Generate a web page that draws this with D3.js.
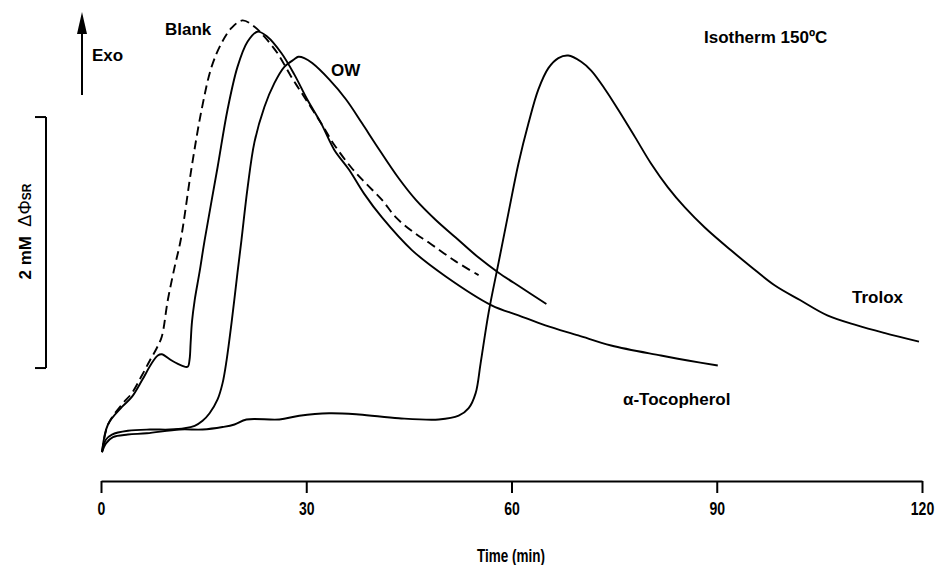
<!DOCTYPE html>
<html>
<head>
<meta charset="utf-8">
<script src="https://cdn.jsdelivr.net/npm/d3@7/dist/d3.min.js"></script>
<style>
  html, body { margin: 0; padding: 0; background: #fff; }
  svg { display: block; }
  .lbl { font-family: "Liberation Sans", Arial, Helvetica, sans-serif; font-weight: bold; font-size: 17px; fill: #000; }
  .tick text { font-family: "Liberation Sans", Arial, sans-serif; font-weight: bold; font-size: 18px; }
</style>
</head>
<body>
<svg id="chart" width="935" height="565"></svg>
<script>
// ---- Data (time in min, signal in mM ΔΦSR) ----
const xTicks = [0, 30, 60, 90, 120];
const scaleBar = [0.9, 2.9]; // 2 mM scale bar

const blankT = [0.15,1.02,3.06,4.51,5.97,7.14,8.16,8.88,9.76,10.78,11.65,13.25,14.71,16.16,17.62,19.08,20.68,22.43,23.88,25.78,27.82,29.71,32.18,34.08,36.55,38.74,41.07,43.11,45.73,47.91,51.84,55.19];
const blankV = [0.23,0.45,0.61,0.70,0.84,0.96,1.06,1.15,1.44,1.71,1.92,2.50,2.96,3.30,3.49,3.61,3.67,3.62,3.54,3.41,3.22,3.06,2.85,2.68,2.50,2.37,2.24,2.10,1.98,1.90,1.75,1.64];

const tocoT = [0.15,1.02,3.06,4.51,5.97,7.43,8.30,8.88,10.34,11.80,12.67,12.95,13.10,13.30,13.69,14.42,15.15,17.04,18.50,19.95,21.41,22.86,24.32,26.36,28.25,30.15,32.18,34.08,36.26,38.45,41.07,45.44,50.39,57.09,61.02,64.95,69.76,74.56,81.84,85.78,90.15];
const tocoV = [0.23,0.45,0.59,0.67,0.80,0.94,1.00,1.01,0.96,0.92,0.91,0.97,1.10,1.27,1.44,1.67,1.92,2.50,2.96,3.30,3.50,3.58,3.54,3.41,3.24,3.04,2.85,2.64,2.48,2.29,2.10,1.84,1.63,1.40,1.32,1.24,1.16,1.08,1.00,0.96,0.92];

const owT = [0.15,0.73,1.60,3.93,7.14,10.05,12.23,13.69,14.85,15.87,17.04,17.77,18.35,19.08,19.95,20.53,21.41,22.43,23.88,25.34,26.80,28.25,28.84,29.71,30.87,33.35,35.82,38.16,40.19,43.54,46.02,48.93,51.84,55.19,58.11,61.46,65.10];
const owV = [0.23,0.33,0.37,0.40,0.41,0.41,0.42,0.44,0.48,0.54,0.65,0.78,0.96,1.26,1.66,1.92,2.33,2.70,2.98,3.17,3.30,3.36,3.38,3.37,3.33,3.20,3.04,2.85,2.68,2.41,2.24,2.08,1.94,1.78,1.66,1.54,1.41];

const troloxT = [0.15,0.73,1.75,3.93,6.70,11.50,14.85,17.77,19.51,21.26,26.07,28.98,33.35,37.72,43.54,49.37,52.28,53.74,54.76,55.49,56.65,58.11,59.57,61.02,62.48,63.93,65.39,66.85,68.30,70.19,71.65,73.69,75.58,78.06,80.39,82.86,85.34,88.25,92.04,94.95,98.45,102.23,106.16,110.53,114.47,119.56];
const troloxV = [0.23,0.30,0.35,0.37,0.38,0.41,0.41,0.43,0.45,0.49,0.49,0.52,0.54,0.53,0.50,0.49,0.52,0.58,0.70,0.94,1.34,1.74,2.14,2.53,2.85,3.12,3.29,3.37,3.39,3.34,3.27,3.12,2.96,2.74,2.53,2.34,2.18,2.02,1.84,1.71,1.56,1.44,1.32,1.24,1.18,1.11];

const seriesNames = ["Blank", "α-Tocopherol", "OW", "Trolox"];

// ---- Layout ----
const svg = d3.select("#chart");
const x = d3.scaleLinear().domain([0, 120]).range([101, 922]);
const y = d3.scaleLinear().domain([0, 3.8]).range([481, 481 - 3.8 * 125.5]);

const series = [
  { name: seriesNames[0], t: blankT, v: blankV, dash: "9,5" },
  { name: seriesNames[1], t: tocoT, v: tocoV, dash: null },
  { name: seriesNames[2], t: owT, v: owV, dash: null },
  { name: seriesNames[3], t: troloxT, v: troloxV, dash: null }
];

const line = d3.line()
  .x(d => x(d[0]))
  .y(d => y(d[1]))
  .curve(d3.curveCatmullRom.alpha(0.5));

series.forEach(s => {
  const pts = s.t.map((t, i) => [t, s.v[i]]);
  svg.append("path")
    .datum(pts)
    .attr("d", line)
    .attr("fill", "none")
    .attr("stroke", "#000")
    .attr("stroke-width", 1.9)
    .attr("stroke-linejoin", "round")
    .attr("stroke-dasharray", s.dash);
});

// ---- X axis ----
const xAxis = d3.axisBottom(x).tickValues(xTicks).tickSize(12).tickSizeOuter(0).tickPadding(9);
const gx = svg.append("g").attr("transform", "translate(0,481)").call(xAxis);
gx.select(".domain").attr("stroke", "#000").attr("stroke-width", 2);
gx.selectAll(".tick line").attr("stroke", "#000").attr("stroke-width", 2);
gx.selectAll(".tick text").attr("fill", "#000").attr("transform", "scale(0.78,1)");

svg.append("text").attr("class", "lbl")
  .attr("transform", "translate(511,562) scale(0.75,1)")
  .attr("text-anchor", "middle")
  .style("font-size", "18px")
  .text("Time (min)");

// ---- Scale bar ----
const sb = svg.append("g").attr("stroke", "#000").attr("stroke-width", 2).attr("fill", "none");
sb.append("line").attr("x1", 46).attr("x2", 46).attr("y1", y(scaleBar[0])).attr("y2", y(scaleBar[1]));
sb.append("line").attr("x1", 35).attr("x2", 46).attr("y1", y(scaleBar[0])).attr("y2", y(scaleBar[0]));
sb.append("line").attr("x1", 35).attr("x2", 46).attr("y1", y(scaleBar[1])).attr("y2", y(scaleBar[1]));

const sbl = svg.append("text").attr("class", "lbl")
  .attr("transform", "translate(31," + ((y(scaleBar[0]) + y(scaleBar[1])) / 2 - 11) + ") rotate(-90)")
  .attr("text-anchor", "middle")
  .style("font-size", "17px");
sbl.append("tspan").text("2 mM\u00A0\u00A0");
sbl.append("tspan").style("font-weight", "normal").style("font-size", "18px").text("ΔΦ");
sbl.append("tspan").style("font-size", "12px").text("SR");

// ---- Exo arrow ----
svg.append("line").attr("x1", 82).attr("x2", 82).attr("y1", 95).attr("y2", 28)
  .attr("stroke", "#000").attr("stroke-width", 2);
svg.append("path").attr("d", "M82,12 L77,34 L87,34 Z").attr("fill", "#000");

// ---- Labels ----
const labels = [
  { text: "Exo", x: 92, y: 61 },
  { text: seriesNames[0], x: 165, y: 35 },
  { text: seriesNames[2], x: 331, y: 76 },
  { text: "Isotherm 150ºC", x: 704, y: 43 },
  { text: seriesNames[3], x: 852, y: 303 },
  { text: seriesNames[1], x: 623, y: 405 }
];
labels.forEach(l => {
  svg.append("text").attr("class", "lbl").attr("x", l.x).attr("y", l.y).text(l.text);
});
</script>
</body>
</html>
